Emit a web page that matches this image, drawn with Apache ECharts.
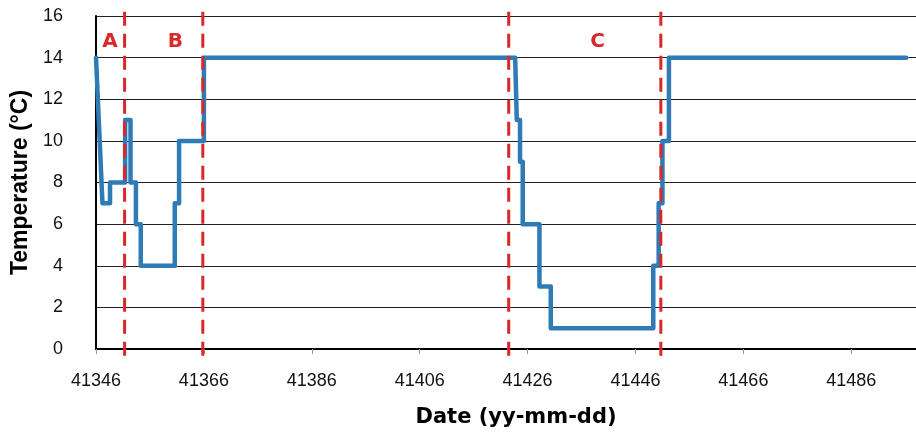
<!DOCTYPE html>
<html>
<head>
<meta charset="utf-8">
<script src="https://cdn.jsdelivr.net/npm/echarts@6/dist/echarts.min.js"></script>
<style>
  html, body { margin: 0; padding: 0; background: #fff; }
  #main { width: 916px; height: 434px; }
</style>
</head>
<body>
<div id="main"></div>
<script>
// step vertices of the temperature record (date serial, deg C)
var dates = [41346, 41347.2, 41348.6, 41348.6, 41351.4, 41351.4, 41352.4, 41352.4, 41353.4, 41353.4,
  41354.3, 41354.3, 41360.6, 41360.6, 41361.4, 41361.4, 41366, 41366, 41423.7, 41424.0,
  41424.6, 41424.6, 41425.1, 41425.1, 41428.2, 41428.2, 41430.3, 41430.3, 41449.3, 41449.3,
  41450.3, 41450.3, 41451.0, 41451.0, 41452.2, 41452.2, 41496.2];
var temps = [14, 7, 7, 8, 8, 11, 11, 8, 8, 6,
  6, 4, 4, 7, 7, 10, 10, 14, 14, 11,
  11, 9, 9, 6, 6, 3, 3, 1, 1, 4,
  4, 7, 7, 10, 10, 14, 14];

// phase boundaries and labels
var boundaries = [41351.3, 41365.8, 41422.5, 41450.7];
var phaseNames = ['A', 'B', 'C'];
var phaseX = [41348.6, 41360.7, 41439];
var phaseY = 14.75;

var pts = [];
for (var i = 0; i < dates.length; i++) {
  pts.push([dates[i], temps[i]]);
}
var labelPts = [];
for (var j = 0; j < phaseNames.length; j++) {
  labelPts.push({ value: [phaseX[j], phaseY], name: phaseNames[j] });
}

var chart = echarts.init(document.getElementById('main'));
var font = 'Liberation Sans, Arial, sans-serif';
var wide = 'DejaVu Sans, sans-serif';

var series = [
  {
    type: 'line',
    data: pts,
    showSymbol: false,
    lineStyle: { color: '#2e7bb5', width: 4.5, join: 'round', cap: 'round' },
    z: 3
  },
  {
    type: 'scatter',
    data: labelPts,
    symbolSize: 0,
    itemStyle: { opacity: 1 },
    label: {
      show: true,
      position: 'inside',
      formatter: '{b}',
      fontFamily: wide,
      fontWeight: 'bold',
      fontSize: 20,
      color: '#d9272a',
      textBorderWidth: 0
    }
  }
];
// dashed boundary lines, slightly overshooting the plot like the original
boundaries.forEach(function (b) {
  series.push({
    type: 'line',
    data: [[b, 16.2], [b, -0.4]],
    showSymbol: false,
    clip: false,
    silent: true,
    z: 5,
    lineStyle: { color: '#d9272a', width: 3, type: [14, 8] }
  });
});

var option = {
  animation: false,
  grid: { left: 96, right: 0, top: 16, bottom: 85 },
  xAxis: {
    type: 'value',
    min: 41346,
    max: 41498,
    interval: 20,
    name: 'Date (yy-mm-dd)',
    nameLocation: 'middle',
    nameGap: 58,
    nameTextStyle: { fontFamily: wide, fontWeight: 'bold', fontSize: 21, color: '#000', padding: [0, 0, 0, 20] },
    axisLine: { lineStyle: { color: '#000', width: 2 } },
    axisTick: { show: true, length: 5, lineStyle: { color: '#999' } },
    axisLabel: {
      fontFamily: font, fontSize: 18, color: '#111', margin: 23,
      showMaxLabel: false,
      formatter: function (v) { return String(v); }
    },
    splitLine: { show: false }
  },
  yAxis: {
    type: 'value',
    min: 0,
    max: 16,
    interval: 2,
    name: 'Temperature (°C)',
    nameLocation: 'middle',
    nameGap: 58,
    nameTextStyle: { fontFamily: font, fontWeight: 'bold', fontSize: 23, color: '#000' },
    axisLine: { show: true, lineStyle: { color: '#000', width: 2 } },
    axisTick: { show: false },
    axisLabel: { fontFamily: font, fontSize: 18, color: '#111', margin: 33 },
    splitLine: { lineStyle: { color: '#222', width: 1 } }
  },
  series: series
};
chart.setOption(option);
</script>
</body>
</html>
